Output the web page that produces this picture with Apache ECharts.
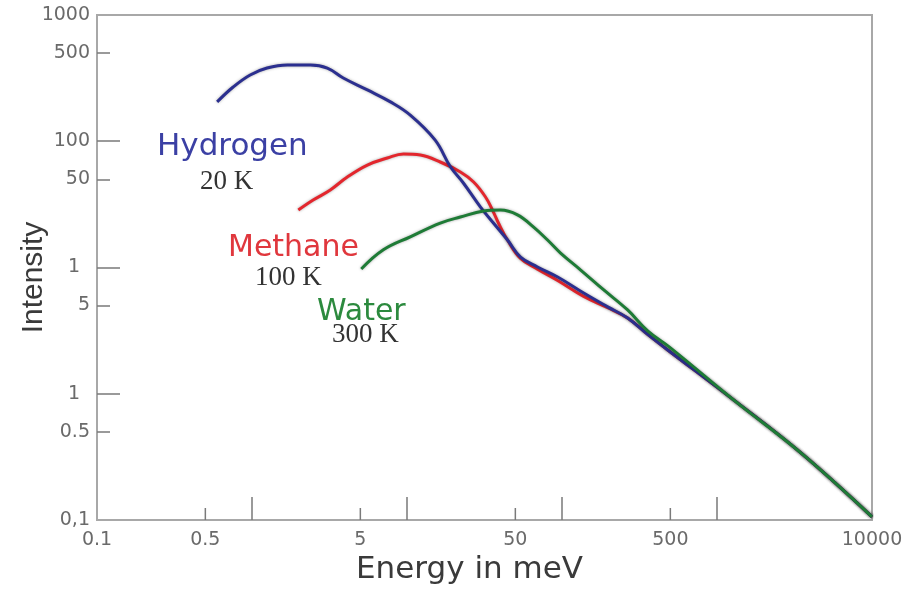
<!DOCTYPE html>
<html>
<head>
<meta charset="utf-8">
<script src="https://cdn.jsdelivr.net/npm/echarts@6/dist/echarts.min.js"></script>
<style>
html, body { margin: 0; padding: 0; background: #fff; }
#chartWrap { width: 911px; height: 589px; }
</style>
</head>
<body>
<div id="chartWrap"></div>
<script>
// tick labels as printed on the original (the "10" on the y axis lost its zero)
const xLabelValues = [0.1, 0.5, 5, 50, 500, 10000];
const xLabelTexts = ['0.1', '0.5', '5', '50', '500', '10000'];
const xMajorTicks = [1, 10, 100, 1000];
const xMinorTicks = [0.5, 5, 50, 500];
const yLabelValues = [0.1, 0.5, 1, 5, 10, 50, 100, 500, 1000];
const yLabelTexts = ['0,1', '0.5', '1', '5', '1', '50', '100', '500', '1000'];
const yMajorTicks = [1, 10, 100];
const yMinorTicks = [0.5, 5, 50, 500];

// Hydrogen 20 K
const hydrogenEnergy = [0.596, 0.756, 0.973, 1.25, 1.69, 2.38, 3.06, 3.88, 5.55, 7.82, 10.5, 15.2, 19.1, 23.1, 29.8, 36.1, 44.5, 54.0, 69.5, 93.7, 138, 197, 265, 357, 481, 1285, 3478, 10000];
const hydrogenIntensity = [205, 269, 335, 380, 402, 402, 380, 317, 255, 205, 161, 102, 62.5, 46.7, 30.1, 22.5, 16.5, 12.1, 10.1, 8.41, 6.28, 4.88, 3.98, 2.95, 2.22, 0.89, 0.34, 0.106];
// Methane 100 K
const methaneEnergy = [1.99, 2.48, 3.2, 4.12, 5.55, 7.47, 9.5, 12.2, 16.4, 22.1, 26.9, 32.1, 35.6, 38.9, 44.5, 54.0, 69.5, 93.7, 138, 197, 265, 357, 481, 1285, 3478, 10000];
const methaneIntensity = [28.5, 34.2, 41.1, 52.1, 64.8, 73.7, 79.3, 77.8, 68.5, 57.1, 47.6, 36.2, 28.5, 22.5, 16.5, 11.8, 9.7, 7.9, 5.9, 4.8, 3.98, 2.95, 2.22, 0.89, 0.34, 0.106];
// Water 300 K
const waterEnergy = [5.07, 7.04, 10.5, 16.4, 22.1, 31.2, 40.1, 51.6, 65.6, 80.7, 97.9, 132, 186, 265, 357, 503, 1285, 3478, 10000];
const waterIntensity = [9.73, 13.8, 17.5, 22.5, 25.1, 28.0, 28.5, 26.1, 20.9, 16.5, 13.0, 9.55, 6.64, 4.61, 3.15, 2.3, 0.89, 0.34, 0.106];

function pairs(xs, ys) {
  return xs.map((x, i) => [x, ys[i]]);
}

function pickLabel(values, texts, v) {
  for (let i = 0; i < values.length; i++) {
    if (Math.abs(Math.log10(values[i]) - Math.log10(v)) < 1e-4) {
      return texts[i] === '1' ? '{pad|1}' : texts[i];
    }
  }
  return '';
}

const axisGray = '#a8a8a8';
const tickGray = '#7a7a7a';
const labelStyle = {
  fontFamily: 'DejaVu Sans',
  fontSize: 19,
  color: '#6a6a6a'
};

let myChart = echarts.init(document.getElementById('chartWrap'));

let opts = {
  animation: false,
  backgroundColor: '#fff',
  grid: {
    left: 97,
    right: 39,
    top: 15,
    bottom: 69,
    show: true,
    borderColor: axisGray,
    borderWidth: 2,
    outerBoundsMode: 'none'
  },
  xAxis: {
    type: 'log',
    min: 0.1,
    max: 10000,
    position: 'bottom',
    name: 'Energy in meV',
    nameLocation: 'middle',
    nameGap: 32,
    nameTextStyle: {
      fontFamily: 'DejaVu Sans',
      fontSize: 31,
      color: '#3a3a3a',
      padding: [0, 30, 0, 0]
    },
    axisLine: { show: true, onZero: false, lineStyle: { color: axisGray, width: 2 } },
    axisTick: {
      show: true,
      inside: true,
      length: 23,
      customValues: xMajorTicks,
      lineStyle: { color: tickGray, width: 1.5 }
    },
    axisLabel: Object.assign({
      margin: 11,
      customValues: xLabelValues,
      formatter: v => pickLabel(xLabelValues, xLabelTexts, v),
      rich: { pad: { fontFamily: 'DejaVu Sans', fontSize: 19, color: '#6a6a6a' } }
    }, labelStyle),
    splitLine: { show: false },
    minorTick: { show: false }
  },
  yAxis: [
    {
      type: 'log',
      min: 0.1,
      max: 1000,
      position: 'left',
      name: 'Intensity',
      nameLocation: 'middle',
      nameGap: 48,
      nameMoveOverlap: false,
      nameTextStyle: {
        fontFamily: 'Liberation Sans',
        fontSize: 30,
        color: '#3a3a3a',
        padding: [0, 20, 0, 0]
      },
      axisLine: { show: true, onZero: false, lineStyle: { color: axisGray, width: 2 } },
      axisTick: {
        show: true,
        inside: true,
        length: 23,
        customValues: yMajorTicks,
        lineStyle: { color: tickGray, width: 1.5 }
      },
      axisLabel: Object.assign({
        margin: 7,
        customValues: yLabelValues,
        formatter: v => pickLabel(yLabelValues, yLabelTexts, v),
        rich: { pad: { fontFamily: 'DejaVu Sans', fontSize: 19, color: '#6a6a6a', padding: [0, 10, 0, 0] } }
      }, labelStyle),
      splitLine: { show: false }
    },
    {
      type: 'log',
      min: 0.1,
      max: 1000,
      position: 'left',
      axisLine: { show: false, onZero: false },
      axisTick: {
        show: true,
        inside: true,
        length: 13,
        customValues: yMinorTicks,
        lineStyle: { color: tickGray, width: 1.5 }
      },
      axisLabel: { show: false },
      splitLine: { show: false }
    }
  ],
  graphic: [
    { type: 'text', left: 157, top: 131, style: { text: 'Hydrogen', font: '31px "DejaVu Sans"', fill: '#3b40a4' } },
    { type: 'text', left: 200, top: 168, style: { text: '20 K', font: '27px "Liberation Serif"', fill: '#333' } },
    { type: 'text', left: 228, top: 233, style: { text: 'Methane', font: '30px "DejaVu Sans"', fill: '#e0373d' } },
    { type: 'text', left: 255, top: 264, style: { text: '100 K', font: '27px "Liberation Serif"', fill: '#333' } },
    { type: 'text', left: 317, top: 297, style: { text: 'Water', font: '30px "DejaVu Sans"', fill: '#2c8a3e' } },
    { type: 'text', left: 332, top: 321, style: { text: '300 K', font: '27px "Liberation Serif"', fill: '#333' } }
  ],
  series: [
    {
      name: 'Methane',
      type: 'line',
      smooth: 0.4,
      showSymbol: false,
      data: pairs(methaneEnergy, methaneIntensity),
      lineStyle: { color: '#e3262d', width: 3, shadowColor: 'rgba(0,0,0,0.35)', shadowBlur: 3 }
    },
    {
      name: 'Hydrogen',
      type: 'line',
      smooth: 0.4,
      showSymbol: false,
      data: pairs(hydrogenEnergy, hydrogenIntensity),
      lineStyle: { color: '#2b2f8f', width: 3, shadowColor: 'rgba(0,0,0,0.35)', shadowBlur: 3 }
    },
    {
      name: 'Water',
      type: 'line',
      smooth: 0.4,
      showSymbol: false,
      data: pairs(waterEnergy, waterIntensity),
      lineStyle: { color: '#1e7b36', width: 3, shadowColor: 'rgba(0,0,0,0.35)', shadowBlur: 3 }
    },
    {
      // short ticks on the energy axis (0.5, 5, 50, 500), placed through the axis scale
      type: 'custom',
      silent: true,
      clip: false,
      z: 3,
      data: xMinorTicks.map(v => [v, 0.1]),
      renderItem: function (params, api) {
        let p = api.coord([api.value(0), api.value(1)]);
        return {
          type: 'line',
          shape: { x1: p[0], y1: p[1], x2: p[0], y2: p[1] - 12 },
          style: { stroke: tickGray, lineWidth: 1.5 }
        };
      }
    }
  ]
};

myChart.setOption(opts);
</script>
</body>
</html>
